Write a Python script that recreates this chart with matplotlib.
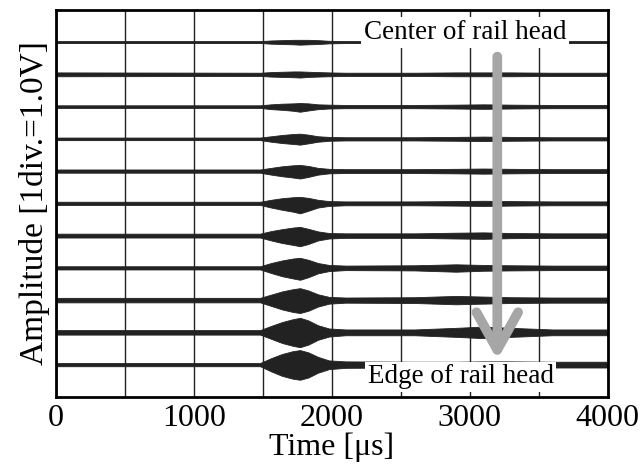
import numpy as np
import matplotlib.pyplot as plt

plt.rcParams['font.family'] = ['Liberation Serif', 'DejaVu Serif']
plt.rcParams['mathtext.fontset'] = 'stix'

# Instantes (us) donde se leyo la envolvente de cada senal
tiempos = [0, 1480, 1560, 1640, 1720, 1770, 1830, 1900, 1980, 2100, 2600, 2900, 3100, 3300, 3600, 4000]

# Envolvente superior e inferior (en divisiones), de arriba (centro) a abajo (borde)
env_sup = [
    [0.03, 0.03, 0.05, 0.06, 0.07, 0.07, 0.07, 0.06, 0.04, 0.03, 0.03, 0.03, 0.03, 0.03, 0.03, 0.03],
    [0.06, 0.05, 0.07, 0.08, 0.09, 0.09, 0.08, 0.07, 0.06, 0.05, 0.05, 0.06, 0.06, 0.06, 0.05, 0.05],
    [0.04, 0.04, 0.07, 0.09, 0.10, 0.11, 0.10, 0.07, 0.06, 0.05, 0.05, 0.06, 0.07, 0.06, 0.05, 0.05],
    [0.04, 0.04, 0.08, 0.12, 0.15, 0.16, 0.13, 0.08, 0.06, 0.05, 0.05, 0.06, 0.07, 0.06, 0.05, 0.05],
    [0.05, 0.05, 0.10, 0.15, 0.18, 0.19, 0.16, 0.10, 0.07, 0.06, 0.06, 0.07, 0.08, 0.07, 0.06, 0.06],
    [0.05, 0.05, 0.11, 0.16, 0.19, 0.20, 0.17, 0.11, 0.07, 0.06, 0.06, 0.07, 0.08, 0.07, 0.06, 0.06],
    [0.06, 0.06, 0.14, 0.20, 0.25, 0.27, 0.21, 0.13, 0.08, 0.07, 0.07, 0.09, 0.10, 0.08, 0.07, 0.07],
    [0.05, 0.05, 0.15, 0.23, 0.29, 0.31, 0.25, 0.15, 0.09, 0.07, 0.08, 0.11, 0.09, 0.08, 0.07, 0.07],
    [0.07, 0.07, 0.17, 0.27, 0.34, 0.37, 0.30, 0.18, 0.10, 0.08, 0.09, 0.13, 0.11, 0.09, 0.08, 0.08],
    [0.07, 0.07, 0.20, 0.32, 0.41, 0.45, 0.37, 0.22, 0.12, 0.09, 0.09, 0.14, 0.18, 0.14, 0.09, 0.09],
    [0.05, 0.05, 0.20, 0.33, 0.42, 0.45, 0.38, 0.24, 0.13, 0.10, 0.09, 0.09, 0.10, 0.10, 0.09, 0.09],
]
env_inf = [
    [0.03, 0.03, 0.05, 0.06, 0.07, 0.08, 0.07, 0.06, 0.04, 0.03, 0.03, 0.03, 0.03, 0.03, 0.03, 0.03],
    [0.06, 0.05, 0.07, 0.08, 0.09, 0.10, 0.08, 0.07, 0.06, 0.05, 0.05, 0.06, 0.06, 0.06, 0.05, 0.05],
    [0.04, 0.04, 0.08, 0.10, 0.13, 0.16, 0.12, 0.08, 0.06, 0.05, 0.05, 0.06, 0.07, 0.06, 0.05, 0.05],
    [0.04, 0.04, 0.09, 0.13, 0.16, 0.18, 0.14, 0.09, 0.06, 0.05, 0.05, 0.06, 0.07, 0.06, 0.05, 0.05],
    [0.05, 0.05, 0.11, 0.16, 0.20, 0.23, 0.18, 0.11, 0.07, 0.06, 0.06, 0.07, 0.08, 0.07, 0.06, 0.06],
    [0.05, 0.05, 0.13, 0.20, 0.26, 0.31, 0.23, 0.13, 0.08, 0.06, 0.06, 0.07, 0.08, 0.07, 0.06, 0.06],
    [0.06, 0.06, 0.15, 0.23, 0.29, 0.33, 0.26, 0.15, 0.09, 0.07, 0.07, 0.09, 0.10, 0.08, 0.07, 0.07],
    [0.05, 0.05, 0.16, 0.26, 0.33, 0.37, 0.29, 0.17, 0.10, 0.07, 0.08, 0.12, 0.09, 0.08, 0.07, 0.07],
    [0.07, 0.07, 0.18, 0.29, 0.37, 0.40, 0.33, 0.20, 0.11, 0.08, 0.09, 0.13, 0.11, 0.09, 0.08, 0.08],
    [0.07, 0.07, 0.20, 0.33, 0.42, 0.46, 0.38, 0.23, 0.13, 0.09, 0.09, 0.14, 0.18, 0.14, 0.09, 0.09],
    [0.05, 0.05, 0.21, 0.35, 0.44, 0.47, 0.40, 0.25, 0.14, 0.10, 0.09, 0.09, 0.10, 0.10, 0.09, 0.09],
]

# Desplazamiento vertical de cada senal (1 div entre senales)
offsets = [11, 10, 9, 8, 7, 6, 5, 4, 3, 2, 1]

x_ticks = [0, 1000, 2000, 3000, 4000]
x_grid = [0, 500, 1000, 1500, 2000, 2500, 3000, 3500, 4000]

fig = plt.figure(figsize=(6.43, 4.68), dpi=100)
ax = fig.add_axes([0.087, 0.152, 0.858, 0.827])

t = np.array(tiempos)
for off, sup, inf in zip(offsets, env_sup, env_inf):
    ax.axhline(off, color='#222222', lw=1.0, zorder=2)
    ax.fill_between(t, off - np.array(inf), off + np.array(sup),
                    color='#222222', lw=0.6, edgecolor='#222222', zorder=3)

for xg in x_grid:
    ax.axvline(xg, color='#222222', lw=1.0, zorder=1)

ax.set_xlim(0, 4000)
ax.set_ylim(0, 12)
ax.set_xticks(x_ticks)
ax.set_yticks([])
ax.tick_params(axis='x', length=0, pad=5, labelsize=23)
for s in ax.spines.values():
    s.set_linewidth(2)
    s.set_zorder(10)

ax.set_xlabel('Time [μs]', fontsize=23, labelpad=0)
ax.set_ylabel('Amplitude [1div.=1.0V]', fontsize=24, labelpad=4)

# Flecha gris del centro al borde de la cabeza del riel
ax.annotate('', xy=(3200, 1.15), xytext=(3200, 10.55),
            arrowprops=dict(arrowstyle='->,head_length=1.35,head_width=0.75',
                            lw=7, color='#a6a6a6', mutation_scale=20,
                            shrinkA=0, shrinkB=0),
            zorder=6)

ax.text(2965, 11.3, 'Center of rail head', fontsize=19.5, ha='center', va='center',
        zorder=5, bbox=dict(facecolor='white', edgecolor='none', pad=2))
ax.text(2935, 0.62, 'Edge of rail head', fontsize=19.5, ha='center', va='center',
        zorder=5, bbox=dict(facecolor='white', edgecolor='none', pad=2))

fig.savefig('out.png', dpi=100)
